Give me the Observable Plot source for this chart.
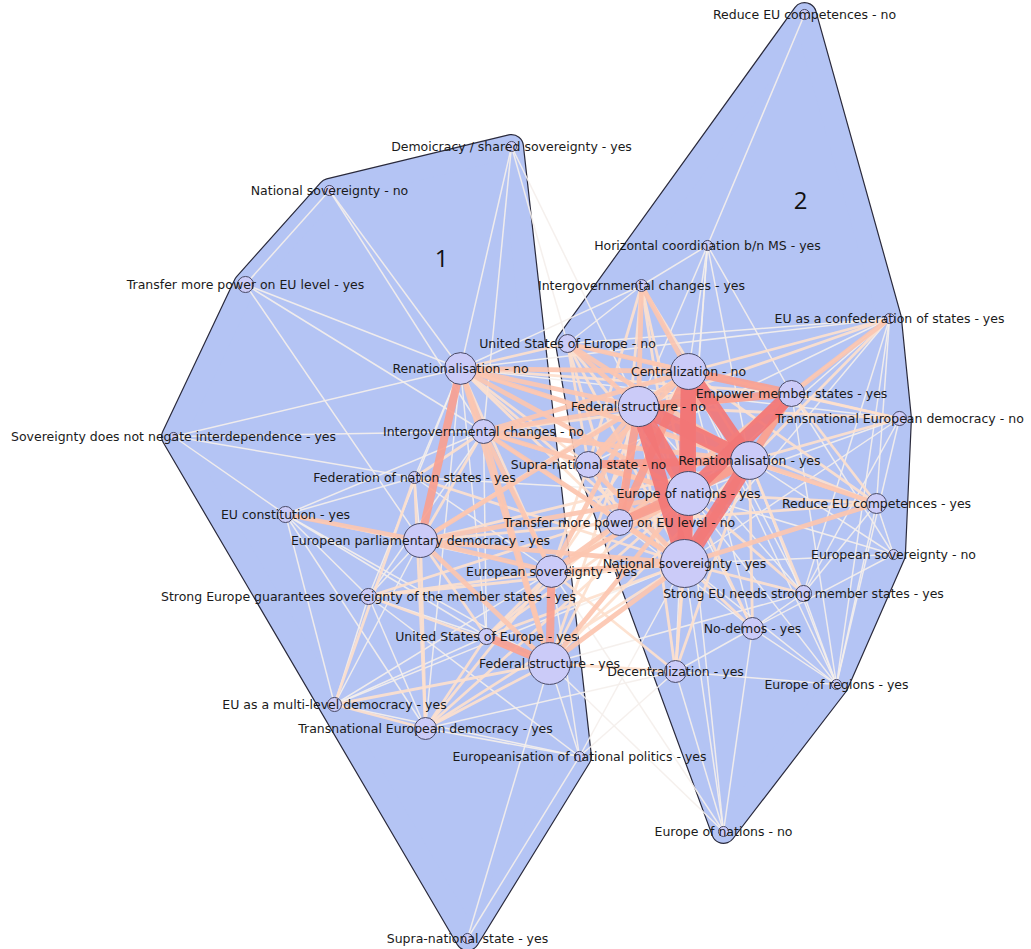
<!DOCTYPE html>
<html><head><meta charset="utf-8">
<script src="https://cdn.jsdelivr.net/npm/d3@7"></script>
<script src="https://cdn.jsdelivr.net/npm/@observablehq/plot@0.6"></script>
<style>body{margin:0;background:#fff}#chart{width:1031px;height:949px}</style>
</head><body><div id="chart"></div>
<script>
// ---- Nodes (layout coordinates) ----
const nodeIds = ["dem","nsn","tpy","ren1","snd","igc1","fns","euc","epd","esy","sgs","usy","fsy","mld","ted","enp","sns",
  "rcn","hcm","igy","cfs","usn","cen","ems","fsn","tdn","snn","rny","eon","rcy","tpn","esn","nsy","sms","ndm","dcy","ery","enn"];
const nodeLabels = [
  "Demoicracy / shared sovereignty - yes","National sovereignty - no","Transfer more power on EU level - yes",
  "Renationalisation - no","Sovereignty does not negate interdependence - yes","Intergovernmental changes - no",
  "Federation of nation states - yes","EU constitution - yes","European parliamentary democracy - yes",
  "European sovereignty - yes","Strong Europe guarantees sovereignty of the member states - yes","United States of Europe - yes",
  "Federal structure - yes","EU as a multi-level democracy - yes","Transnational European democracy - yes",
  "Europeanisation of national politics - yes","Supra-national state - yes",
  "Reduce EU competences - no","Horizontal coordination b/n MS - yes","Intergovernmental changes - yes",
  "EU as a confederation of states - yes","United States of Europe - no","Centralization - no","Empower member states - yes",
  "Federal structure - no","Transnational European democracy - no","Supra-national state - no","Renationalisation - yes",
  "Europe of nations - yes","Reduce EU competences - yes","Transfer more power on EU level - no","European sovereignty - no",
  "National sovereignty - yes","Strong EU needs strong member states - yes","No-demos - yes","Decentralization - yes",
  "Europe of regions - yes","Europe of nations - no"];
const nodeX = [511,329,245,460,173,483,414,285,420,551,368,486,549,334,425,579,467,
  804,707,641,889,567,688,791,638,899,588,749,688,876,619,893,684,803,752,675,836,723];
const nodeY = [146,190,284,368,436,431,477,514,540,571,596,636,663,704,728,756,938,
  14,245,285,318,343,371,393,406,418,464,460,493,503,522,554,563,593,628,671,684,831];
const nodeWeight = [2.2,2.2,5.6,22,1.4,12.5,3.1,5.6,25,22,5.6,5.6,38,4.3,10.5,2.2,2.2,
  2.2,2.2,3.1,2.2,7,28,14.7,35,4.3,14.7,31,42,8.7,14.7,2.2,50,5.6,10.5,10.5,2.2,2.2];
const nodeCluster = [1,1,1,1,1,1,1,1,1,1,1,1,1,1,1,1,1,
  2,2,2,2,2,2,2,2,2,2,2,2,2,2,2,2,2,2,2,2,2];
const clusterNames = ["1","2"];
const clusterNameX = [441,800];
const clusterNameY = [259,201];

// ---- Edges: [source, target, co-occurrence strength 1..5] ----
const edges = [
 ["dem","ren1",1],["dem","usn",1],["dem","fsn",1],["dem","igc1",1],
 ["nsn","tpy",1],["nsn","ren1",1],["nsn","igc1",1],
 ["tpy","ren1",1],["tpy","igc1",1],["tpy","epd",1],
 ["snd","ren1",1],["snd","euc",1],["snd","igc1",1],["snd","fns",1],
 ["euc","fns",1],["euc","epd",3],["euc","igc1",1],["euc","sgs",1],["euc","mld",1],["euc","ted",1],["euc","usy",1],["euc","fsy",1],["euc","esy",1],
 ["fns","igc1",2],["fns","ren1",1],["fns","epd",1],["fns","ted",2],["fns","mld",2],["fns","esy",1],["fns","nsy",2],["fns","eon",1],
 ["ren1","epd",4],["ren1","igc1",3],["ren1","esy",2],["ren1","fsy",3],["ren1","usy",1],["ren1","ted",1],["ren1","sgs",1],
 ["ren1","cen",3],["ren1","fsn",3],["ren1","rny",3],["ren1","eon",3],["ren1","nsy",2],["ren1","ems",2],["ren1","usn",2],["ren1","snn",2],["ren1","tpn",2],["ren1","cfs",1],["ren1","igy",1],["ren1","tdn",1],["ren1","rcy",2],
 ["igc1","epd",2],["igc1","esy",3],["igc1","fsy",3],["igc1","usy",1],["igc1","fsn",3],["igc1","cen",3],["igc1","eon",3],["igc1","rny",3],["igc1","nsy",3],["igc1","tpn",2],["igc1","snn",2],["igc1","ems",2],["igc1","sgs",1],
 ["epd","esy",3],["epd","fsy",3],["epd","usy",2],["epd","ted",2],["epd","sgs",1],["epd","mld",1],["epd","nsy",3],["epd","eon",3],["epd","fsn",3],["epd","rny",2],["epd","cen",2],["epd","tpn",2],
 ["esy","fsy",4],["esy","usy",2],["esy","ted",2],["esy","sgs",2],["esy","mld",1],["esy","enp",1],["esy","nsy",3],["esy","eon",3],["esy","tpn",3],["esy","fsn",3],["esy","rny",2],["esy","cen",2],["esy","dcy",2],["esy","snn",2],
 ["fsy","usy",4],["fsy","ted",2],["fsy","mld",2],["fsy","sgs",2],["fsy","enp",1],["fsy","sns",1],["fsy","nsy",3],["fsy","eon",3],["fsy","fsn",2],["fsy","tpn",2],["fsy","rny",2],["fsy","dcy",2],["fsy","enn",1],["fsy","sms",1],
 ["usy","ted",2],["usy","mld",1],["usy","sgs",1],["usy","nsy",2],["usy","eon",2],["usy","tpn",2],
 ["ted","mld",2],["ted","sgs",1],["ted","enp",1],["ted","nsy",2],["ted","eon",2],["ted","dcy",1],
 ["mld","sgs",1],["mld","nsy",1],["mld","enp",1],
 ["sgs","nsy",2],["sgs","eon",2],["sgs","enp",1],
 ["enp","sns",1],["enp","dcy",1],["enp","nsy",1],
 ["rcn","hcm",1],
 ["hcm","cen",1],["hcm","fsn",1],["hcm","rny",1],["hcm","eon",1],["hcm","nsy",1],["hcm","ems",1],["hcm","igy",1],
 ["igy","fsn",3],["igy","cen",3],["igy","eon",2],["igy","nsy",2],["igy","rny",2],["igy","usn",1],["igy","snn",2],["igy","tpn",2],
 ["cfs","ems",3],["cfs","cen",2],["cfs","rny",2],["cfs","fsn",2],["cfs","eon",1],["cfs","tpn",1],["cfs","nsy",1],["cfs","sms",1],["cfs","rcy",1],["cfs","ery",1],["cfs","usn",1],["cfs","snn",1],
 ["usn","cen",3],["usn","fsn",3],["usn","rny",3],["usn","eon",2],["usn","nsy",2],["usn","snn",2],["usn","ems",2],["usn","tpn",2],
 ["cen","rny",5],["cen","eon",5],["cen","nsy",5],["cen","fsn",3],["cen","ems",4],["cen","tpn",4],["cen","snn",3],
 ["fsn","rny",5],["fsn","eon",5],["fsn","nsy",5],["fsn","ems",4],["fsn","snn",3],["fsn","tpn",4],
 ["ems","eon",5],["ems","rny",3],["ems","nsy",4],["ems","tpn",3],
 ["tdn","ems",2],["tdn","cen",2],["tdn","fsn",2],["tdn","rny",2],["tdn","eon",1],["tdn","nsy",1],["tdn","ery",1],["tdn","sms",1],["tdn","usn",1],
 ["snn","rny",4],["snn","nsy",3],["snn","eon",3],["snn","tpn",2],
 ["rny","eon",4],["rny","nsy",5],["rny","tpn",4],
 ["eon","nsy",4],["eon","tpn",4],
 ["tpn","nsy",3],
 ["rcy","rny",3],["rcy","eon",2],["rcy","nsy",3],["rcy","cen",2],["rcy","fsn",2],["rcy","ems",2],["rcy","tpn",2],["rcy","esn",1],["rcy","sms",1],["rcy","ery",1],
 ["esn","nsy",1],["esn","rny",1],["esn","eon",1],["esn","ems",1],["esn","ndm",1],
 ["sms","nsy",2],["sms","eon",2],["sms","rny",2],["sms","ndm",1],["sms","ery",1],["sms","fsn",1],["sms","cen",1],
 ["ndm","nsy",2],["ndm","eon",2],["ndm","rny",2],["ndm","cen",1],["ndm","fsn",1],["ndm","ery",1],["ndm","tpn",1],["ndm","enn",1],
 ["dcy","nsy",2],["dcy","eon",2],["dcy","rny",2],["dcy","fsn",2],["dcy","cen",1],["dcy","enn",1],["dcy","ery",1],["dcy","ndm",1],
 ["ery","nsy",1],["ery","rny",1],["ery","eon",1],["ery","ems",1],["ery","cen",1],
 ["enn","nsy",1],["enn","eon",1],["enn","esy",1]
];

const nodes = nodeIds.map((id,i)=>({id,label:nodeLabels[i],x:nodeX[i],y:nodeY[i],w:nodeWeight[i],cluster:nodeCluster[i]}));
const byId = new Map(nodes.map(n=>[n.id,n]));
const links = edges.map(([s,t,w])=>({s:byId.get(s),t:byId.get(t),w})).sort((a,b)=>a.w-b.w);
const widthFor = w => [0,1.5,2.8,4.8,8,15][w];
const clusters = clusterNames.map((c,i)=>({c,x:clusterNameX[i],y:clusterNameY[i]}));
const hullFill = "#b4c4f4";

const chart = Plot.plot({
  width:1031, height:949, margin:0,
  style:{fontFamily:"DejaVu Sans, sans-serif", background:"#fff"},
  x:{domain:[0,1031], range:[0,1031], axis:null},
  y:{domain:[0,949], range:[0,949], axis:null},
  r:{type:"sqrt", domain:[0,50], range:[0,24]},
  color:{type:"linear", domain:[1,2,3,4,5], range:["#f4efeb","#fde0cd","#fcc5b0","#f8a090","#f27676"]},
  marks:[
    Plot.hull(nodes,{x:"x",y:"y",z:"cluster",stroke:"#2a2a3c",strokeWidth:25,strokeLinejoin:"round",fill:"none"}),
    Plot.hull(nodes,{x:"x",y:"y",z:"cluster",fill:hullFill,stroke:hullFill,strokeWidth:22.6,strokeLinejoin:"round"}),
    Plot.link(links,{x1:d=>d.s.x,y1:d=>d.s.y,x2:d=>d.t.x,y2:d=>d.t.y,stroke:"w",strokeWidth:d=>widthFor(d.w),strokeOpacity:0.92}),
    Plot.dot(nodes,{x:"x",y:"y",r:"w",fill:"#cbcbf8",stroke:"#4a4a66",strokeWidth:1}),
    Plot.text(nodes,{x:"x",y:"y",text:"label",fontSize:12.5,fill:"#1a1a1a",textAnchor:"middle",lineAnchor:"middle"}),
    Plot.text(clusters,{x:"x",y:"y",text:"c",fontSize:24,fill:"#111",fontFamily:"Open Sans, sans-serif"})
  ]
});
document.getElementById("chart").appendChild(chart);
</script>
</body></html>
